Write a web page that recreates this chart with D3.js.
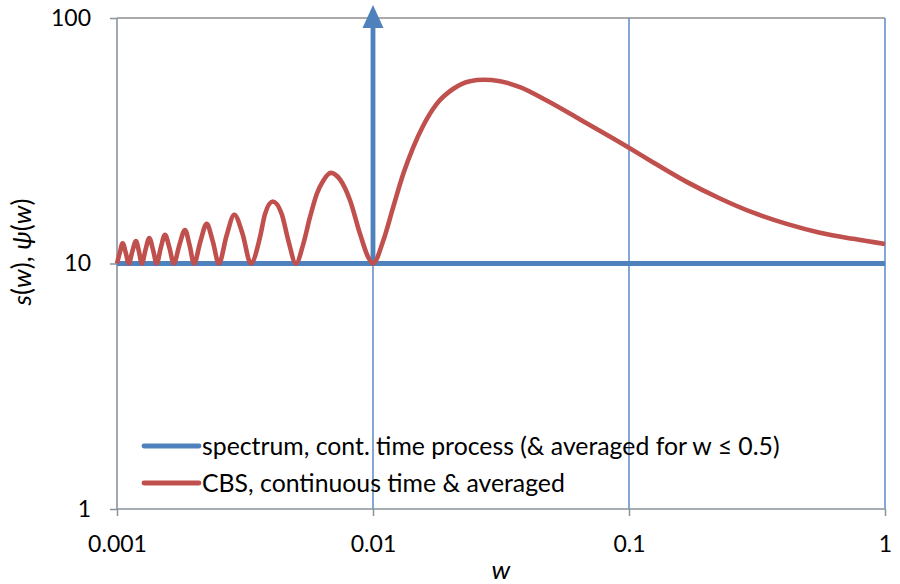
<!DOCTYPE html>
<html>
<head>
<meta charset="utf-8">
<script src="https://cdn.jsdelivr.net/npm/d3@7"></script>
<style>
  html, body { margin: 0; padding: 0; background: #fff; }
  svg { display: block; font-family: Lato, "Open Sans", sans-serif; }
</style>
</head>
<body>
<svg id="chart" width="900" height="584"></svg>
<script>
// ---- data ----
const xTickValues = [0.001, 0.01, 0.1, 1];
const xTickLabels = ["0.001", "0.01", "0.1", "1"];
const yTickValues = [1, 10, 100];
const yTickLabels = ["1", "10", "100"];

// spectrum, continuous time process (flat level) and its spectral line (delta) at w = 0.01
const spectrumW = [0.001, 1];
const spectrumS = [10, 10];
const deltaW = [0.01, 0.01];
const deltaS = [10, 100];

// CBS, continuous time & averaged
const cbsW = [
  0.001, 0.001026, 0.001052, 0.001081, 0.001111, 0.001148, 0.001186, 0.001218,
  0.00125, 0.001293, 0.001337, 0.001382, 0.001429, 0.001483, 0.00154, 0.001602,
  0.001667, 0.001753, 0.001844, 0.00192, 0.002, 0.002117, 0.002241, 0.002367,
  0.0025, 0.00268, 0.002872, 0.003094, 0.003333,
  0.003619, 0.003785, 0.00406, 0.0044, 0.004669, 0.005,
  0.00534, 0.00567, 0.00603, 0.0064, 0.00684, 0.00743, 0.00813, 0.0089, 0.00958, 0.01,
  0.01097, 0.0120, 0.01313, 0.01437, 0.01572, 0.01774, 0.0206, 0.02393, 0.02698,
  0.03134, 0.0375, 0.0477, 0.0644, 0.0868, 0.1, 0.1244, 0.168, 0.2267, 0.3058,
  0.413, 0.557, 0.7516, 1
];
const cbsV = [
  10, 11.1, 12.1, 11.1, 10, 11.2, 12.35, 11.2,
  10, 11.4, 12.7, 11.4, 10, 11.6, 13.1, 11.6,
  10, 11.9, 13.7, 11.9, 10, 12.3, 14.5, 12.3,
  10, 13.0, 15.8, 13.2, 10,
  12.8, 15.9, 17.9, 15.9, 12.4, 10,
  12.0, 15.4, 19.2, 21.8, 23.4, 22.0, 18.1, 13.2, 10.6, 10,
  12.4, 17.0, 23.2, 29.8, 36.5, 44.7, 51.5, 55.3, 56.0,
  55.3, 52.3, 46.1, 38.6, 32.3, 29.6, 25.8, 21.5, 18.4, 16.1,
  14.5, 13.35, 12.6, 12.0
];

const legendLabels = [
  "spectrum, cont. time process (& averaged for w \u2264 0.5)",
  "CBS, continuous time & averaged"
];
const seriesColors = ["#4F81BD", "#C0504D"];

// ---- layout ----
const svg = d3.select("#chart");
const plotL = 117, plotR = 885, plotT = 18, plotB = 509;
const x = d3.scaleLog().domain([0.001, 1]).range([plotL, plotR]);
const y = d3.scaleLog().domain([1, 100]).range([plotB, plotT]);
const axisGray = "#8A929C";
const gridBlue = "#5B8BC9";
const fontSize = 23;

// gridlines
svg.append("g").selectAll("line").data([10, 100]).join("line")
  .attr("x1", plotL).attr("x2", plotR)
  .attr("y1", d => y(d)).attr("y2", d => y(d))
  .attr("stroke", "#8E8E8E").attr("stroke-width", 1.3);
svg.append("g").selectAll("line").data([0.01, 0.1, 1]).join("line")
  .attr("x1", d => x(d)).attr("x2", d => x(d))
  .attr("y1", plotT).attr("y2", plotB)
  .attr("stroke", gridBlue).attr("stroke-width", 1.5);

// axes
const xAxis = d3.axisBottom(x).tickValues(xTickValues)
  .tickFormat((d, i) => xTickLabels[i]).tickSize(7).tickPadding(20);
const gx = svg.append("g").attr("transform", `translate(0,${plotB})`).call(xAxis);
const yAxis = d3.axisLeft(y).tickValues(yTickValues)
  .tickFormat((d, i) => yTickLabels[i]).tickSize(7).tickPadding(19);
const gy = svg.append("g").attr("transform", `translate(${plotL},0)`).call(yAxis);
[gx, gy].forEach(g => {
  g.select(".domain").remove();
  g.selectAll(".tick line").attr("stroke", axisGray).attr("stroke-width", 1.5);
  g.selectAll(".tick text").attr("fill", "#000").style("font-size", fontSize + "px")
    .style("font-family", "Lato, 'Open Sans', sans-serif");
});
svg.append("line").attr("x1", plotL).attr("x2", plotL).attr("y1", plotT).attr("y2", plotB)
  .attr("stroke", axisGray).attr("stroke-width", 1.6);
svg.append("line").attr("x1", plotL).attr("x2", plotR).attr("y1", plotB).attr("y2", plotB)
  .attr("stroke", axisGray).attr("stroke-width", 1.6);

// blue spectrum
const line = d3.line().x(d => x(d[0])).y(d => y(d[1]));
svg.append("path").datum(d3.zip(spectrumW, spectrumS)).attr("d", line)
  .attr("fill", "none").attr("stroke", seriesColors[0]).attr("stroke-width", 4.8);
svg.append("path").datum(d3.zip(deltaW, deltaS)).attr("d", line)
  .attr("fill", "none").attr("stroke", seriesColors[0]).attr("stroke-width", 4.8);
// arrow head at top of spectral line
const ax = x(deltaW[1]), ay = y(deltaS[1]);
svg.append("path")
  .attr("d", `M${ax},${ay - 13} L${ax + 10.5},${ay + 10} L${ax - 10.5},${ay + 10} Z`)
  .attr("fill", seriesColors[0]);

// red CBS
const curve = d3.line().x(d => x(d[0])).y(d => y(d[1])).curve(d3.curveMonotoneX);
svg.append("path").datum(d3.zip(cbsW, cbsV)).attr("d", curve)
  .attr("fill", "none").attr("stroke", seriesColors[1]).attr("stroke-width", 4.6)
  .attr("stroke-linejoin", "round");

// legend
const lg = svg.append("g");
legendLabels.forEach((t, i) => {
  const ly = 446 + i * 37;
  lg.append("line").attr("x1", 144).attr("x2", 199).attr("y1", ly).attr("y2", ly)
    .attr("stroke", seriesColors[i]).attr("stroke-width", 4.8).attr("stroke-linecap", "round");
  lg.append("text").attr("x", 202).attr("y", ly).attr("dy", "0.35em")
    .style("font-size", "24.8px").attr("fill", "#000").text(t);
});

// axis titles
svg.append("text").attr("x", (plotL + plotR) / 2).attr("y", 579)
  .attr("text-anchor", "middle").style("font-size", "26px")
  .style("font-style", "italic").text("w");
const yt = svg.append("text").attr("transform", "translate(31,252) rotate(-90)")
  .attr("text-anchor", "middle").style("font-size", "26px");
[["s", true], ["(", false], ["w", true], ["), ", false], ["\u03C8", true], ["(", false], ["w", true], [")", false]]
  .forEach(([s, it]) => yt.append("tspan").style("font-style", it ? "italic" : "normal").text(s));
</script>
</body>
</html>
